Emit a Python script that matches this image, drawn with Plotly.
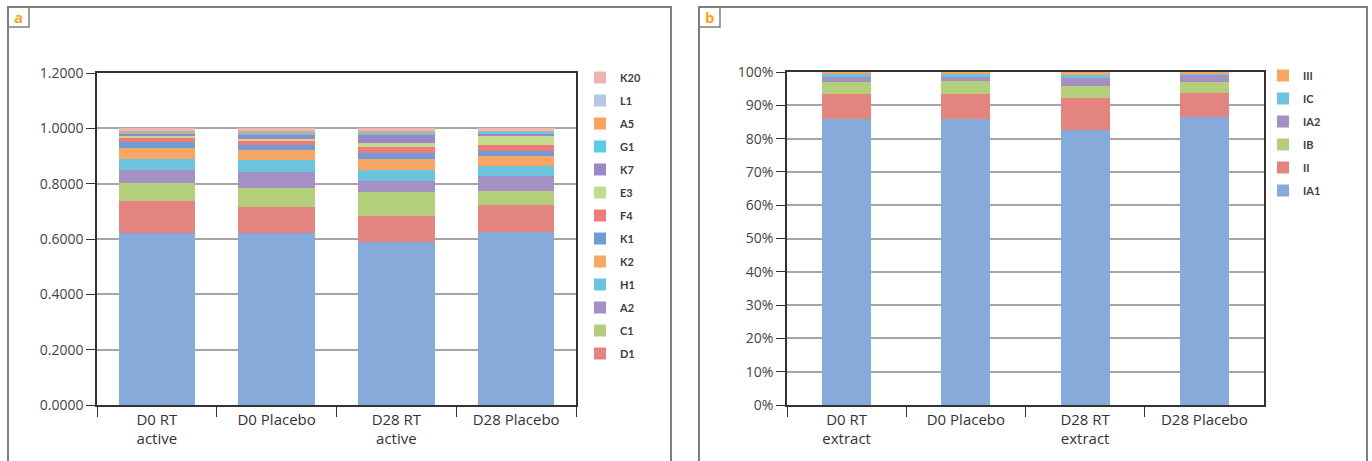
import plotly.graph_objects as go

# ---------------- data: panel a ----------------
cats_a = ["D0 RT<br>active", "D0 Placebo", "D28 RT<br>active", "D28 Placebo"]
series_a_names = ["base", "D1", "C1", "A2", "H1", "K2", "K1", "F4", "E3", "K7", "G1", "A5", "L1", "K20"]
base = [0.623, 0.623, 0.588, 0.626]
D1 = [0.115, 0.091, 0.095, 0.097]
C1 = [0.065, 0.069, 0.088, 0.052]
A2 = [0.046, 0.060, 0.040, 0.053]
H1 = [0.039, 0.042, 0.038, 0.036]
K2 = [0.041, 0.037, 0.040, 0.036]
K1 = [0.023, 0.018, 0.021, 0.018]
F4 = [0.015, 0.015, 0.023, 0.022]
E3 = [0.006, 0.008, 0.013, 0.033]
K7 = [0.008, 0.012, 0.030, 0.008]
G1 = [0.004, 0.008, 0.008, 0.006]
A5 = [0.006, 0.008, 0.007, 0.004]
L1 = [0.004, 0.004, 0.006, 0.005]
K20 = [0.005, 0.005, 0.003, 0.004]
values_a = [base, D1, C1, A2, H1, K2, K1, F4, E3, K7, G1, A5, L1, K20]
colors_a = ["#86abdb", "#e48480", "#b3cf7c", "#a590c4", "#6cc3dd", "#f8a664",
            "#6f9bd6", "#ee7b77", "#c2db8e", "#9d86c6", "#5ccbe6", "#f9a45c",
            "#b4c9e8", "#f2b4b2"]
yticks_a = [0.0, 0.2, 0.4, 0.6, 0.8, 1.0, 1.2]

# ---------------- data: panel b ----------------
cats_b = ["D0 RT<br>extract", "D0 Placebo", "D28 RT<br>extract", "D28 Placebo"]
series_b_names = ["IA1", "II", "IB", "IA2", "IC", "III"]
IA1 = [86.0, 85.9, 82.6, 86.6]
II = [7.3, 7.4, 9.7, 7.0]
IB = [3.8, 3.9, 3.5, 3.5]
IA2 = [1.5, 1.4, 2.3, 2.0]
IC = [0.8, 0.8, 1.0, 0.5]
III = [0.6, 0.6, 0.9, 0.4]
values_b = [IA1, II, IB, IA2, IC, III]
colors_b = ["#86abdb", "#e48480", "#b3cf7c", "#a590c4", "#6cc3dd", "#f8a664"]
yticks_b = [0, 10, 20, 30, 40, 50, 60, 70, 80, 90, 100]
yticklabels_b = ["0%", "10%", "20%", "30%", "40%", "50%", "60%", "70%", "80%", "90%", "100%"]

W, H = 1372, 461
fig = go.Figure()

n_a = len(series_a_names)
for i, (name, vals, col) in enumerate(zip(series_a_names, values_a, colors_a)):
    fig.add_trace(go.Bar(x=cats_a, y=vals, name=name, marker_color=col,
                         marker_line_width=0, xaxis="x", yaxis="y", width=0.64,
                         legend="legend", legendgroup="a_" + name,
                         legendrank=100 + (n_a - i),
                         showlegend=(name != "base")))

n_b = len(series_b_names)
for i, (name, vals, col) in enumerate(zip(series_b_names, values_b, colors_b)):
    fig.add_trace(go.Bar(x=cats_b, y=vals, name=name, marker_color=col,
                         marker_line_width=0, xaxis="x2", yaxis="y2", width=0.41,
                         legend="legend2", legendgroup="b_" + name,
                         legendrank=100 + (n_b - i)))

def px(x):
    return x / W

def py(y):
    return 1 - y / H

axis_font = dict(family="Open Sans, Liberation Sans, sans-serif", size=15, color="#333333")
tick_font = dict(family="Open Sans, Liberation Sans, sans-serif", size=14, color="#444444")
leg_font = dict(family="Lato, DejaVu Sans, sans-serif", size=11, color="#404040", weight="bold")

fig.update_layout(
    width=W, height=H,
    margin=dict(l=0, r=0, t=0, b=0, autoexpand=False),
    paper_bgcolor="white", plot_bgcolor="white",
    barmode="stack",
    xaxis=dict(domain=[px(97), px(576)], tickfont=axis_font, ticks="outside",
               tickson="boundaries", ticklen=10, tickcolor="#333333",
               showline=True, linecolor="#333333", linewidth=1.5, mirror=True,
               anchor="y"),
    yaxis=dict(domain=[py(405), py(73)], range=[0, 1.2], tickvals=yticks_a,
               tickformat=".4f", tickfont=tick_font, ticks="outside", ticklen=9,
               tickcolor="#333333", showgrid=True, gridcolor="#a6a6a6", gridwidth=1.5,
               showline=True, linecolor="#333333", linewidth=1.5, mirror=True,
               zeroline=False, anchor="x"),
    xaxis2=dict(domain=[px(787), px(1264)], tickfont=axis_font, ticks="outside",
                tickson="boundaries", ticklen=10, tickcolor="#333333",
                showline=True, linecolor="#333333", linewidth=1.5, mirror=True,
                anchor="y2"),
    yaxis2=dict(domain=[py(405), py(72)], range=[0, 100], tickvals=yticks_b,
                ticktext=yticklabels_b, tickfont=tick_font, ticks="outside", ticklen=9,
                tickcolor="#333333", showgrid=True, gridcolor="#a6a6a6", gridwidth=1.5,
                showline=True, linecolor="#333333", linewidth=1.5, mirror=True,
                zeroline=False, anchor="x2"),
    legend=dict(x=px(580), y=py(63), xanchor="left", yanchor="top",
                traceorder="grouped", tracegroupgap=4, font=leg_font,
                bgcolor="rgba(0,0,0,0)", itemwidth=30),
    legend2=dict(x=px(1263), y=py(61), xanchor="left", yanchor="top",
                 traceorder="grouped", tracegroupgap=4, font=leg_font,
                 bgcolor="rgba(0,0,0,0)", itemwidth=30),
    shapes=[
        dict(type="rect", xref="paper", yref="paper", x0=px(8), x1=px(671),
             y0=py(475), y1=py(7), line=dict(color="#7f7f7f", width=2)),
        dict(type="rect", xref="paper", yref="paper", x0=px(699), x1=px(1367),
             y0=py(475), y1=py(7), line=dict(color="#7f7f7f", width=2)),
        dict(type="rect", xref="paper", yref="paper", x0=px(8), x1=px(29),
             y0=py(27), y1=py(7), line=dict(color="#7f7f7f", width=1.5)),
        dict(type="rect", xref="paper", yref="paper", x0=px(699), x1=px(720),
             y0=py(27), y1=py(7), line=dict(color="#7f7f7f", width=1.5)),
    ],
    annotations=[
        dict(text="a", xref="paper", yref="paper", x=px(18.5), y=py(17),
             xanchor="center", yanchor="middle",
             showarrow=False, font=dict(family="Open Sans, sans-serif", size=15,
                                        color="#f5a623", weight="bold")),
        dict(text="b", xref="paper", yref="paper", x=px(709.5), y=py(17),
             xanchor="center", yanchor="middle",
             showarrow=False, font=dict(family="Open Sans, sans-serif", size=15,
                                        color="#f5a623", weight="bold")),
    ],
)

fig.write_html("out.html", config={"displayModeBar": False},
               post_script="document.body.style.margin='0';document.body.style.overflow='hidden';")
